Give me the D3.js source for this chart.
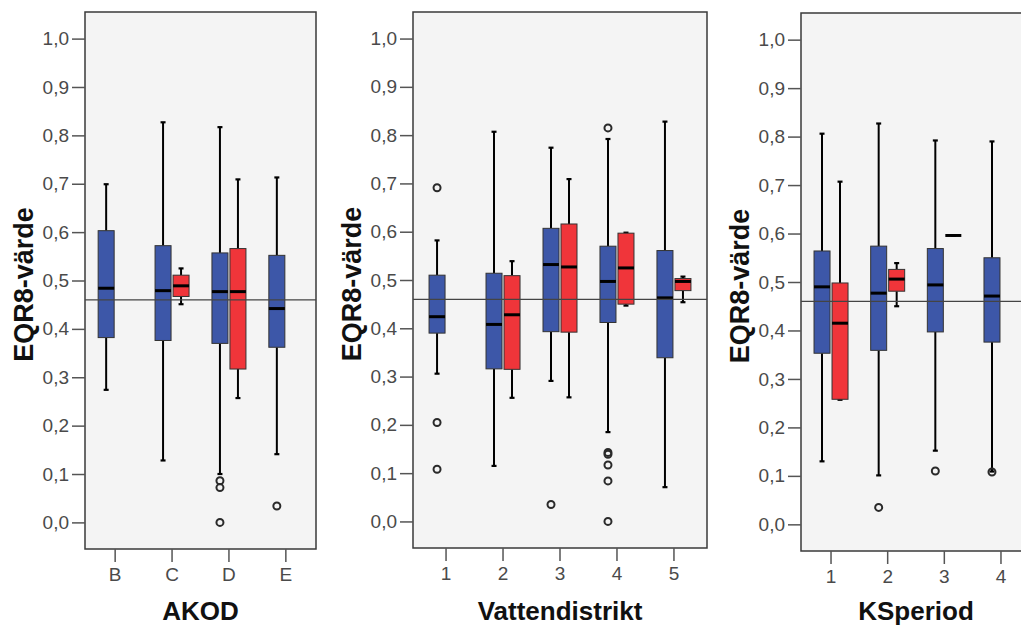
<!DOCTYPE html>
<html>
<head>
<meta charset="utf-8">
<script src="https://cdn.jsdelivr.net/npm/d3@7"></script>
<style>
  html, body { margin: 0; padding: 0; background: #fff; }
  svg { display: block; }
  text { font-family: "Liberation Sans", Arial, sans-serif; }
</style>
</head>
<body>
<svg id="chart" width="1021" height="626"></svg>
<script>
// ---------- DATA ----------
// Box stats: [lowWhisker, Q1, median, Q3, highWhisker]
const yTicks = [0, 0.1, 0.2, 0.3, 0.4, 0.5, 0.6, 0.7, 0.8, 0.9, 1.0];
const refValue = 0.46;
const yTitle = "EQR8-värde";

const akodCats = ["B", "C", "D", "E"];
const akodBlue = [
  [0.274, 0.382, 0.484, 0.603, 0.699],
  [0.128, 0.376, 0.479, 0.572, 0.827],
  [0.100, 0.370, 0.477, 0.557, 0.817],
  [0.141, 0.362, 0.442, 0.552, 0.713]
];
const akodRed = [
  null,
  [0.451, 0.467, 0.489, 0.511, 0.525],
  [0.257, 0.317, 0.477, 0.566, 0.709],
  null
];
const akodBlueOut = [[], [], [0.086, 0.072, 0.0], [0.034]];
const akodRedOut = [[], [], [], []];

const vdCats = ["1", "2", "3", "4", "5"];
const vdBlue = [
  [0.306, 0.390, 0.424, 0.510, 0.582],
  [0.115, 0.316, 0.408, 0.514, 0.807],
  [0.291, 0.393, 0.532, 0.607, 0.774],
  [0.185, 0.412, 0.497, 0.570, 0.792],
  [0.071, 0.339, 0.463, 0.561, 0.828]
];
const vdRed = [
  null,
  [0.256, 0.315, 0.428, 0.509, 0.539],
  [0.257, 0.392, 0.527, 0.616, 0.709],
  [0.447, 0.450, 0.525, 0.597, 0.598],
  [0.454, 0.478, 0.497, 0.503, 0.507]
];
const vdBlueOut = [[0.691, 0.205, 0.108], [], [0.035], [0.815, 0.143, 0.139, 0.117, 0.084, 0.0], []];
const vdRedOut = [[], [], [], [], []];

const ksCats = ["1", "2", "3", "4"];
const ksBlue = [
  [0.130, 0.353, 0.490, 0.564, 0.806],
  [0.101, 0.359, 0.477, 0.574, 0.827],
  [0.152, 0.397, 0.494, 0.569, 0.792],
  [0.109, 0.376, 0.471, 0.550, 0.790]
];
const ksRed = [
  [0.257, 0.258, 0.415, 0.498, 0.707],
  [0.450, 0.481, 0.506, 0.526, 0.539],
  [0.596, 0.596, 0.596, 0.596, 0.596],
  null
];
const ksBlueOut = [[], [0.035], [0.110], [0.108]];
const ksRedOut = [[], [], [], []];

const panelTitles = ["AKOD", "Vattendistrikt", "KSperiod"];

// ---------- LAYOUT ----------
const panels = [
  { cats: akodCats, blue: akodBlue, red: akodRed, bOut: akodBlueOut, rOut: akodRedOut,
    title: panelTitles[0], x0: 85, x1: 316, y0: 12, y1: 549, pad: 0.03 },
  { cats: vdCats, blue: vdBlue, red: vdRed, bOut: vdBlueOut, rOut: vdRedOut,
    title: panelTitles[1], x0: 413, x1: 707, y0: 12, y1: 548, pad: 0.08 },
  { cats: ksCats, blue: ksBlue, red: ksRed, bOut: ksBlueOut, rOut: ksRedOut,
    title: panelTitles[2], x0: 801, x1: 1031, y0: 13, y1: 551, pad: 0.03 }
];

const BLUE = "#3d57a8";
const RED = "#f0353a";
const fmt = v => d3.format(".1f")(v).replace(".", ",");

const svg = d3.select("#chart");

panels.forEach(p => {
  const g = svg.append("g");
  const x = d3.scaleBand().domain(p.cats).range([p.x0, p.x1])
    .paddingInner(0).paddingOuter(p.pad);
  const y = d3.scaleLinear().domain([-0.055, 1.055]).range([p.y1, p.y0]);

  // plot background & frame
  g.append("rect")
    .attr("x", p.x0).attr("y", p.y0)
    .attr("width", p.x1 - p.x0).attr("height", p.y1 - p.y0)
    .attr("fill", "#f4f4f4").attr("stroke", "#3a3a3a").attr("stroke-width", 1.5);

  // y axis
  const ya = d3.axisLeft(y).tickValues(yTicks).tickFormat(fmt).tickSize(13).tickPadding(3);
  const yg = g.append("g").attr("transform", `translate(${p.x0},0)`).call(ya);
  yg.select(".domain").remove();
  yg.selectAll(".tick line").attr("stroke", "#555").attr("stroke-width", 1.5);
  yg.selectAll(".tick text").attr("fill", "#4a4a4a").attr("font-size", 19)
    .attr("font-family", "'Liberation Sans', Arial, sans-serif");

  // x axis
  const xa = d3.axisBottom(x).tickSize(13).tickPadding(6);
  const xg = g.append("g").attr("transform", `translate(0,${p.y1})`).call(xa);
  xg.select(".domain").remove();
  xg.selectAll(".tick line").attr("stroke", "#555").attr("stroke-width", 1.5);
  xg.selectAll(".tick text").attr("fill", "#4a4a4a").attr("font-size", 19)
    .attr("font-family", "'Liberation Sans', Arial, sans-serif");

  // axis titles
  g.append("text")
    .attr("x", (x(p.cats[0]) + x(p.cats[p.cats.length - 1]) + x.bandwidth()) / 2)
    .attr("y", 620)
    .attr("text-anchor", "middle")
    .attr("font-size", 26).attr("font-weight", "bold").attr("fill", "#111")
    .text(p.title);
  g.append("text")
    .attr("transform", `translate(${p.x0 - 52},${(p.y0 + p.y1) / 2 + 4}) rotate(-90)`)
    .attr("text-anchor", "middle")
    .attr("font-size", 27).attr("font-weight", "bold").attr("fill", "#111")
    .text(yTitle);

  const bw = 16;
  const off = 9;

  function drawBox(stats, cx, color) {
    if (!stats) return;
    const [lo, q1, med, q3, hi] = stats;
    const bg = g.append("g");
    // whiskers
    bg.append("line").attr("x1", cx).attr("x2", cx)
      .attr("y1", y(q3)).attr("y2", y(hi)).attr("stroke", "#000").attr("stroke-width", 2);
    bg.append("line").attr("x1", cx).attr("x2", cx)
      .attr("y1", y(q1)).attr("y2", y(lo)).attr("stroke", "#000").attr("stroke-width", 2);
    [lo, hi].forEach(v => {
      bg.append("line").attr("x1", cx - 2.5).attr("x2", cx + 2.5)
        .attr("y1", y(v)).attr("y2", y(v)).attr("stroke", "#000").attr("stroke-width", 2.2);
    });
    // box
    if (q3 > q1) {
      bg.append("rect")
        .attr("x", cx - bw / 2).attr("y", y(q3))
        .attr("width", bw).attr("height", y(q1) - y(q3))
        .attr("fill", color).attr("stroke", "#333").attr("stroke-width", 1);
    }
    // median
    bg.append("line").attr("x1", cx - bw / 2).attr("x2", cx + bw / 2)
      .attr("y1", y(med)).attr("y2", y(med)).attr("stroke", "#000").attr("stroke-width", 3);
  }

  function drawOut(vals, cx) {
    g.selectAll(null).data(vals).enter().append("circle")
      .attr("cx", cx).attr("cy", d => y(d)).attr("r", 3.5)
      .attr("fill", "none").attr("stroke", "#2a2a2a").attr("stroke-width", 2);
  }

  p.cats.forEach((c, i) => {
    const cx = x(c) + x.bandwidth() / 2;
    drawBox(p.blue[i], cx - off, BLUE);
    drawBox(p.red[i], cx + off, RED);
    drawOut(p.bOut[i], cx - off);
    drawOut(p.rOut[i], cx + off);
  });

  // reference line drawn over the boxes
  g.append("line")
    .attr("x1", p.x0).attr("x2", p.x1)
    .attr("y1", y(refValue)).attr("y2", y(refValue))
    .attr("stroke", "#444").attr("stroke-width", 1.2);
});
</script>
</body>
</html>
